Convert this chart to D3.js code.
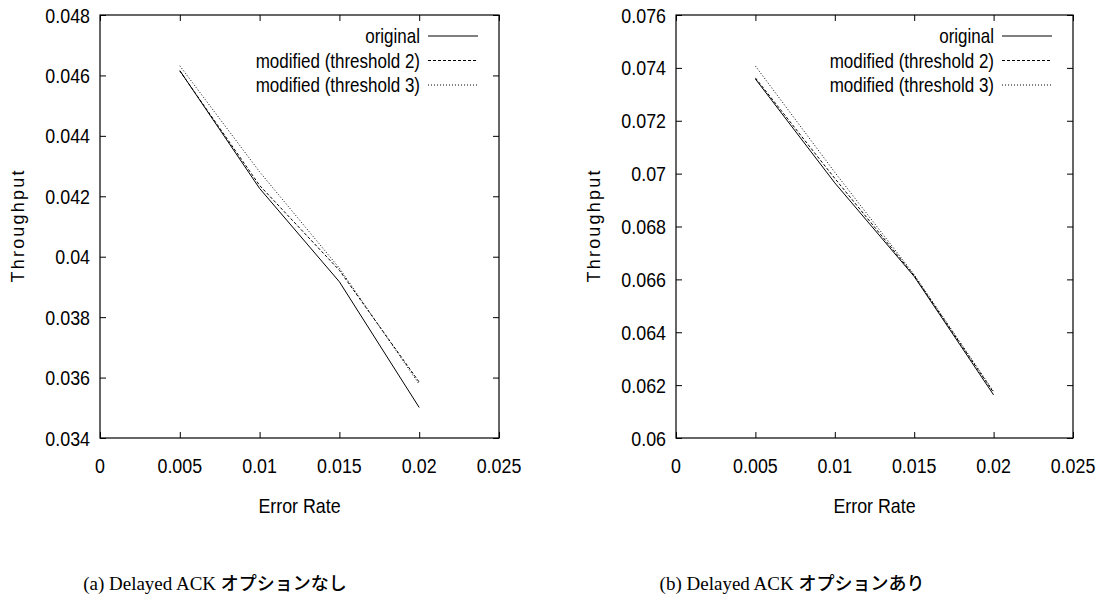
<!DOCTYPE html>
<html>
<head>
<meta charset="utf-8">
<script src="https://cdn.jsdelivr.net/npm/d3@7"></script>
<style>
  html, body { margin: 0; padding: 0; background: #fff; }
  svg { display: block; }
  .sans { font-family: "Liberation Sans", Arial, sans-serif; fill: #000; }
  .cap  { font-family: "Liberation Serif", "Times New Roman", serif; fill: #000; }
  .jp   { font-family: "Noto Sans CJK JP", sans-serif; font-weight: 500; }
</style>
</head>
<body>
<svg id="chart" width="1105" height="612"></svg>
<script>
// Error rates on the x axis
const errorRates = [0.005, 0.01, 0.015, 0.02];

// Throughput without the Delayed ACK option
const noDelayOriginal = [0.04616, 0.04226, 0.03917, 0.03501];
const noDelayThresh2  = [0.04615, 0.04236, 0.03955, 0.03585];
const noDelayThresh3  = [0.04632, 0.04281, 0.03962, 0.03578];

// Throughput with the Delayed ACK option
const delayOriginal = [0.07358, 0.06965, 0.06611, 0.06163];
const delayThresh2  = [0.07362, 0.06982, 0.06614, 0.06172];
const delayThresh3  = [0.07407, 0.07005, 0.06618, 0.06176];

const xTicks = [0, 0.005, 0.01, 0.015, 0.02, 0.025];
const xTickLabels = ["0", "0.005", "0.01", "0.015", "0.02", "0.025"];
const yTicksA = [0.034, 0.036, 0.038, 0.04, 0.042, 0.044, 0.046, 0.048];
const yTickLabelsA = ["0.034", "0.036", "0.038", "0.04", "0.042", "0.044", "0.046", "0.048"];
const yTicksB = [0.06, 0.062, 0.064, 0.066, 0.068, 0.07, 0.072, 0.074, 0.076];
const yTickLabelsB = ["0.06", "0.062", "0.064", "0.066", "0.068", "0.07", "0.072", "0.074", "0.076"];

const seriesNames = ["original", "modified (threshold 2)", "modified (threshold 3)"];
const seriesDash = [null, "3,2", "1,2"];

const xLabel = "Error Rate";
const yLabel = "Throughput";

const svg = d3.select("#chart");
const NARROW = 0.85; // horizontal squeeze for the condensed label face

function condensed(sel, x, y, size, anchor) {
  return sel.append("text")
    .attr("class", "sans")
    .attr("transform", `translate(${x},${y}) scale(${NARROW},1)`)
    .attr("text-anchor", anchor)
    .attr("dominant-baseline", "central")
    .style("font-size", size + "px");
}

function drawPanel(opts) {
  const { left, right, top, bottom, yDomain, yTicks, yTickLabels, series, caption, captionJp } = opts;
  const g = svg.append("g");

  const x = d3.scaleLinear().domain([0, 0.025]).range([left, right]);
  const y = d3.scaleLinear().domain(yDomain).range([bottom, top]);
  const tickLen = 6;

  // inward ticks on all four sides, labels on left and bottom
  const axB = d3.axisBottom(x).tickValues(xTicks).tickSize(tickLen).tickFormat("");
  const axT = d3.axisTop(x).tickValues(xTicks).tickSize(tickLen).tickFormat("");
  const axL = d3.axisLeft(y).tickValues(yTicks).tickSize(tickLen).tickFormat("");
  const axR = d3.axisRight(y).tickValues(yTicks).tickSize(tickLen).tickFormat("");

  [[axB, `translate(0,${bottom}) scale(1,-1) translate(0,0)`, "b"],
   [axT, `translate(0,${top}) scale(1,-1)`, "t"],
   [axL, `translate(${left},0) scale(-1,1)`, "l"],
   [axR, `translate(${right},0) scale(-1,1)`, "r"]].forEach(([ax, tr]) => {
    const a = g.append("g").attr("transform", tr).call(ax);
    a.select(".domain").remove();
    a.selectAll(".tick line").attr("stroke", "#000").attr("stroke-width", 1);
  });

  // frame
  g.append("rect")
    .attr("x", left).attr("y", top)
    .attr("width", right - left).attr("height", bottom - top)
    .attr("fill", "none").attr("stroke", "#000").attr("stroke-width", 1.2);

  // tick labels
  xTicks.forEach((v, i) => {
    condensed(g, x(v), bottom + 27, 21, "middle").text(xTickLabels[i]);
  });
  yTicks.forEach((v, i) => {
    condensed(g, left - 10, y(v), 21, "end").text(yTickLabels[i]);
  });

  // axis titles
  condensed(g, (left + right) / 2, bottom + 67, 21, "middle").text(xLabel);
  g.append("text")
    .attr("class", "sans")
    .attr("transform", `translate(${left - 82},${(top + bottom) / 2}) rotate(-90)`)
    .attr("text-anchor", "middle")
    .attr("dominant-baseline", "central")
    .attr("textLength", 112)
    .attr("lengthAdjust", "spacing")
    .style("font-size", "18px")
    .text(yLabel);

  // data lines
  const line = d3.line().x((d, i) => x(errorRates[i])).y(d => y(d));
  series.forEach((vals, k) => {
    g.append("path")
      .datum(vals)
      .attr("d", line)
      .attr("fill", "none")
      .attr("stroke", "#000")
      .attr("stroke-width", 1)
      .attr("stroke-dasharray", seriesDash[k]);
  });

  // legend
  seriesNames.forEach((name, k) => {
    const ly = top + 21 + k * 24.5;
    condensed(g, right - 79, ly, 20, "end").text(name);
    g.append("line")
      .attr("x1", right - 71).attr("x2", right - 21)
      .attr("y1", ly).attr("y2", ly)
      .attr("stroke", "#000").attr("stroke-width", 1)
      .attr("stroke-dasharray", seriesDash[k]);
  });

  // caption
  const cap = g.append("text")
    .attr("class", "cap")
    .attr("x", opts.captionX).attr("y", 590)
    .attr("text-anchor", "middle")
    .style("font-size", "19px");
  cap.append("tspan").text(caption);
  cap.append("tspan").attr("class", "jp").style("font-size", "18px").text(captionJp);
}

drawPanel({
  left: 100, right: 499, top: 15, bottom: 438,
  yDomain: [0.034, 0.048], yTicks: yTicksA, yTickLabels: yTickLabelsA,
  series: [noDelayOriginal, noDelayThresh2, noDelayThresh3],
  caption: "(a) Delayed ACK ", captionJp: "オプションなし", captionX: 215
});

drawPanel({
  left: 676, right: 1073, top: 15, bottom: 438,
  yDomain: [0.06, 0.076], yTicks: yTicksB, yTickLabels: yTickLabelsB,
  series: [delayOriginal, delayThresh2, delayThresh3],
  caption: "(b) Delayed ACK ", captionJp: "オプションあり", captionX: 792
});
</script>
</body>
</html>
